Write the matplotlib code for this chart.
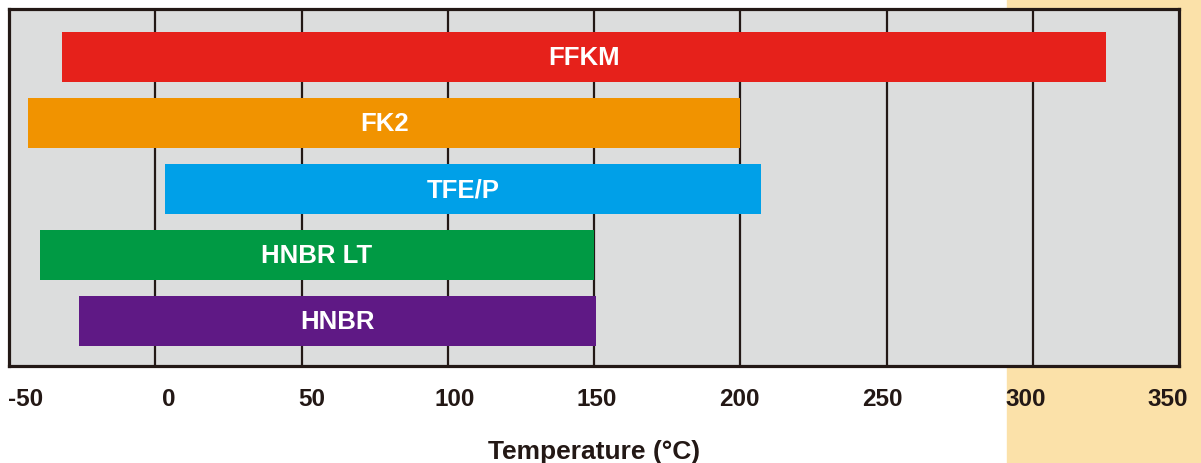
import matplotlib
matplotlib.use("Agg")
import matplotlib.pyplot as plt
import matplotlib.transforms as mtransforms
from matplotlib.patches import Rectangle

# temperature ranges (deg C), top to bottom
materials = ["FFKM", "FK2", "TFE/P", "HNBR LT", "HNBR"]
t_min = [-32, -43.5, 3.3, -39.4, -26]
t_max = [325, 200, 207, 150, 150.8]
colors = ["#e6211b", "#f19300", "#00a0e8", "#009a44", "#5f1985"]
ticks = [-50, 0, 50, 100, 150, 200, 250, 300, 350]

plt.rcParams["font.family"] = ["Liberation Sans", "DejaVu Sans"]
plt.rcParams["font.weight"] = "bold"

dark = "#231815"

fig = plt.figure(figsize=(12.01, 4.64), dpi=100)
# pale orange band on the right, behind the axes
fig.patches.append(Rectangle((1007 / 1201, 0), 1 - 1007 / 1201, 1,
                             transform=fig.transFigure, color="#fbe1a9", zorder=-5))

ax = fig.add_axes([9 / 1201, 97 / 464, 1170 / 1201, 357 / 464])
ax.set_facecolor("#dcdddd")

ypos = list(range(len(materials)))[::-1]
for y, name, lo, hi, c in zip(ypos, materials, t_min, t_max, colors):
    ax.barh(y, hi - lo, left=lo, height=0.76, color=c, zorder=3)
    ax.text((lo + hi) / 2, y, name, color="white", fontsize=18.5,
            fontweight="bold", ha="center", va="center", zorder=4)

for t in ticks[1:-1]:
    ax.axvline(t, color=dark, lw=1.6, zorder=2)

ax.set_xlim(-50, 350)
ax.set_ylim(-0.68, 4.73)
ax.set_yticks([])
ax.set_xticks(ticks)
ax.set_xticklabels([str(t) for t in ticks], fontsize=17.5, fontweight="bold", color=dark)
ax.tick_params(axis="x", length=0, pad=15)
# labels in the original sit a bit off their grid lines
for t, lab in zip(ticks, ax.get_xticklabels()):
    dx = (17 - 28 * (t + 50) / 400) / 100
    lab.set_transform(lab.get_transform() + mtransforms.ScaledTranslation(dx, 0, fig.dpi_scale_trans))
for s in ax.spines.values():
    s.set_linewidth(2.3)
    s.set_color(dark)
    s.set_zorder(5)

ax.set_xlabel("Temperature (°C)", fontsize=19, fontweight="bold", color=dark, labelpad=21)

fig.savefig("out.png", dpi=100)
